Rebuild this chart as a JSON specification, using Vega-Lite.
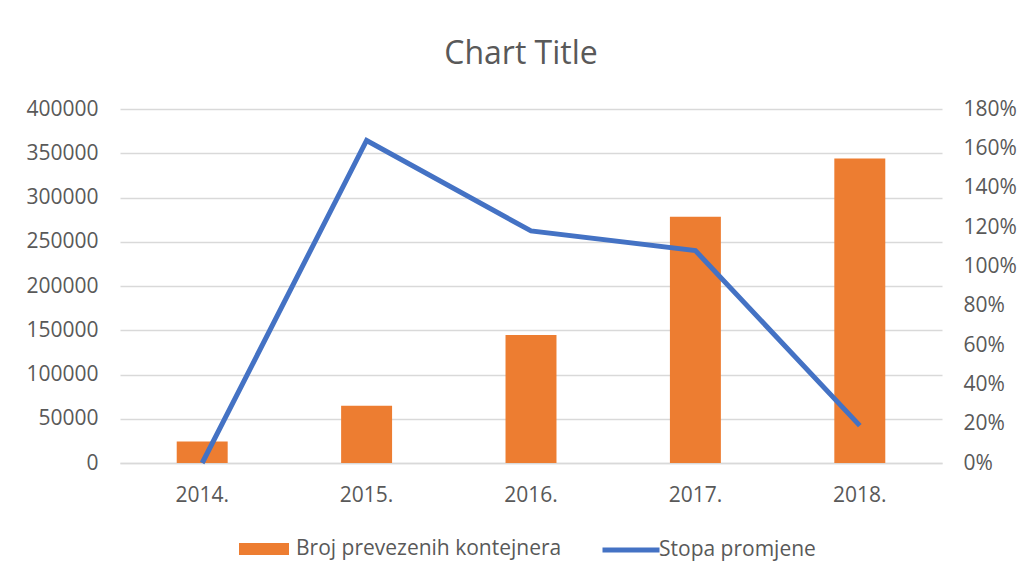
{
  "$schema": "https://vega.github.io/schema/vega-lite/v6.json",
  "autosize": {"type": "none"},
  "width": 822,
  "height": 354,
  "padding": {"left": 120, "top": 109, "right": 79, "bottom": 118},
  "background": "white",
  "config": {
    "font": "Open Sans",
    "view": {"stroke": null},
    "axis": {"labelColor": "#595959", "labelFont": "Open Sans", "labelFontSize": 21, "ticks": false, "domain": false, "title": null},
    "legend": {"labelColor": "#595959", "labelFont": "Open Sans", "labelFontSize": 21, "labelLimit": 400}
  },
  "title": {"text": "Chart Title", "fontSize": 32, "font": "Open Sans", "fontWeight": "normal", "color": "#595959", "offset": 27, "dx": -10},
  "data": {
    "values": [
      {"year": "2014.", "broj": 24400, "stopa": 0.0},
      {"year": "2015.", "broj": 64700, "stopa": 1.64},
      {"year": "2016.", "broj": 144500, "stopa": 1.18},
      {"year": "2017.", "broj": 278300, "stopa": 1.08},
      {"year": "2018.", "broj": 344200, "stopa": 0.19}
    ]
  },
  "encoding": {
    "x": {
      "field": "year", "type": "ordinal",
      "scale": {"paddingInner": 0.69, "paddingOuter": 0.345},
      "axis": {"labelAngle": 0, "labelPadding": 21, "domain": true, "domainColor": "#D9D9D9", "domainWidth": 1.5}
    }
  },
  "layer": [
    {
      "mark": {"type": "bar", "color": "#ED7D31"},
      "encoding": {
        "y": {
          "field": "broj", "type": "quantitative",
          "scale": {"domain": [0, 400000]},
          "axis": {"values": [0, 50000, 100000, 150000, 200000, 250000, 300000, 350000, 400000], "format": "d", "grid": true, "gridColor": "#D9D9D9", "gridWidth": 1.5, "labelPadding": 22}
        },
        "color": {
          "datum": "Broj prevezenih kontejnera",
          "scale": {"range": ["#ED7D31"]},
          "legend": {"orient": "none", "legendX": 118, "legendY": 414, "title": null, "symbolType": "M-1,-0.24H1V0.24H-1Z", "symbolSize": 2500, "labelOffset": 6}
        }
      }
    },
    {
      "mark": {"type": "line", "color": "#4472C4", "strokeWidth": 5},
      "encoding": {
        "y": {
          "field": "stopa", "type": "quantitative",
          "scale": {"domain": [0, 1.8]},
          "axis": {"orient": "right", "values": [0, 0.2, 0.4, 0.6, 0.8, 1.0, 1.2, 1.4, 1.6, 1.8], "format": ".0%", "grid": false, "labelPadding": 21}
        },
        "stroke": {
          "datum": "Stopa promjene",
          "scale": {"range": ["#4472C4"]},
          "legend": {"orient": "none", "legendX": 480, "legendY": 410, "title": null, "symbolType": "stroke", "symbolStrokeWidth": 5, "symbolSize": 3249, "labelOffset": -3}
        }
      }
    }
  ],
  "resolve": {"scale": {"y": "independent", "color": "independent"}, "axis": {"y": "independent"}}
}
